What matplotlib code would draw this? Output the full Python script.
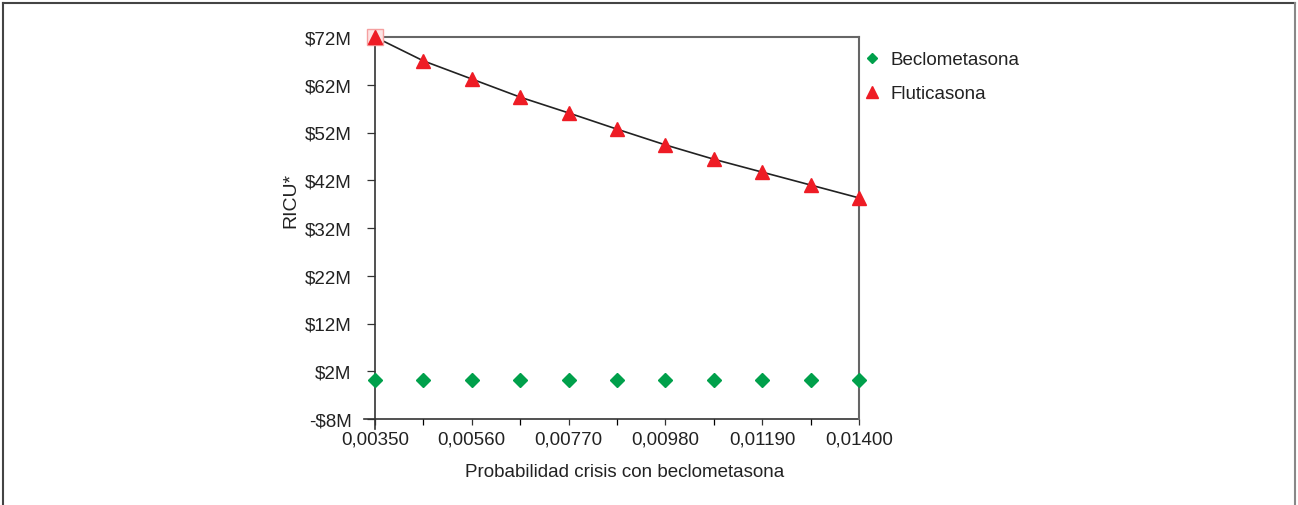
import matplotlib.pyplot as plt
from matplotlib.lines import Line2D
import numpy as np

plt.rcParams['font.family'] = ['Liberation Sans', 'DejaVu Sans']

# ----------------------------
# Data (millones)
# ----------------------------
prob = [0.00350, 0.00455, 0.00560, 0.00665, 0.00770, 0.00875,
        0.00980, 0.01085, 0.01190, 0.01295, 0.01400]
flutic = [72.0, 67.0, 63.2, 59.4, 56.1, 52.7, 49.4, 46.4, 43.7, 41.0, 38.3]
beclo = [0.2, 0.1, 0.1, 0.2, 0.1, 0.1, 0.2, 0.1, 0.1, 0.2, 0.1]

xticks_major = [0.00350, 0.00560, 0.00770, 0.00980, 0.01190, 0.01400]
xtick_labels = ["0,00350", "0,00560", "0,00770", "0,00980", "0,01190", "0,01400"]
yticks = [-8, 2, 12, 22, 32, 42, 52, 62, 72]
ytick_labels = ["-$8M", "$2M", "$12M", "$22M", "$32M", "$42M", "$52M", "$62M", "$72M"]

green = "#00a04b"
red = "#ee1c25"
dark = "#333333"
txt = "#222222"

fig = plt.figure(figsize=(12.98, 5.06), dpi=100)
ax = fig.add_axes([375 / 1298, 1 - 420 / 506, 484 / 1298, 382 / 506])

# trend line + points
ax.plot(prob, flutic, color="#222222", lw=1.2, zorder=2)
ax.plot(prob[0], flutic[0], marker="s", ms=12, mfc="#fde4e4", mec="#f5a0a0",
        ls="none", clip_on=False, zorder=3)
ax.plot(prob, flutic, ls="none", marker="^", ms=10, color=red,
        clip_on=False, zorder=4, label="Fluticasona")
ax.plot(prob, beclo, ls="none", marker="D", ms=7, color=green,
        clip_on=False, zorder=4, label="Beclometasona")

ax.set_xlim(prob[0], prob[-1])
ax.set_ylim(-8, 72)
ax.set_xticks(xticks_major)
ax.set_xticklabels(xtick_labels)
ax.set_xticks(prob, minor=True)
ax.set_yticks(yticks)
ax.set_yticklabels(ytick_labels)

ax.tick_params(axis="both", labelsize=13.5, colors=dark, labelcolor=txt)
ax.tick_params(axis="x", which="both", length=4, width=0.9, direction="out", pad=4)
ax.tick_params(axis="y", length=6, width=0.9, pad=11)

# spines: left/bottom dark and crossing, top/right gray
for s in ["left", "bottom"]:
    ax.spines[s].set_visible(False)
for s in ["top", "right"]:
    ax.spines[s].set_color("#666666")
    ax.spines[s].set_linewidth(1.5)
ax.add_line(Line2D([0, 0], [-10 / 382, 1], transform=ax.transAxes,
                   color=dark, lw=1.2, clip_on=False, zorder=1))
ax.add_line(Line2D([-11 / 484, 1], [0, 0], transform=ax.transAxes,
                   color=dark, lw=1.2, clip_on=False, zorder=1))

ax.set_ylabel("RICU*", fontsize=14, color=txt)
ax.yaxis.set_label_coords(-0.157, 0.574)
ax.set_xlabel("Probabilidad crisis con beclometasona", fontsize=13.5,
              color=txt, labelpad=12)
ax.xaxis.set_label_coords(0.5165, -0.115)

# legend
h, l = ax.get_legend_handles_labels()
leg = ax.legend([h[1], h[0]], [l[1], l[0]], loc="upper left",
                bbox_to_anchor=(0.973, 1.007), frameon=False, fontsize=13.5,
                handletextpad=0.5, labelspacing=0.9, handlelength=1.0,
                markerscale=0.8)
for t in leg.get_texts():
    t.set_color(txt)

# figure border (top, left, right)
fig.add_artist(Line2D([3 / 1298, 1295 / 1298], [1 - 3.5 / 506, 1 - 3.5 / 506],
                      transform=fig.transFigure, color="#444444", lw=1.5))
fig.add_artist(Line2D([3 / 1298, 3 / 1298], [0, 1 - 3.5 / 506],
                      transform=fig.transFigure, color="#444444", lw=1.5))
fig.add_artist(Line2D([1295 / 1298, 1295 / 1298], [0, 1 - 3.5 / 506],
                      transform=fig.transFigure, color="#888888", lw=1.5))

fig.savefig("out.png", dpi=100)
plt.close(fig)
